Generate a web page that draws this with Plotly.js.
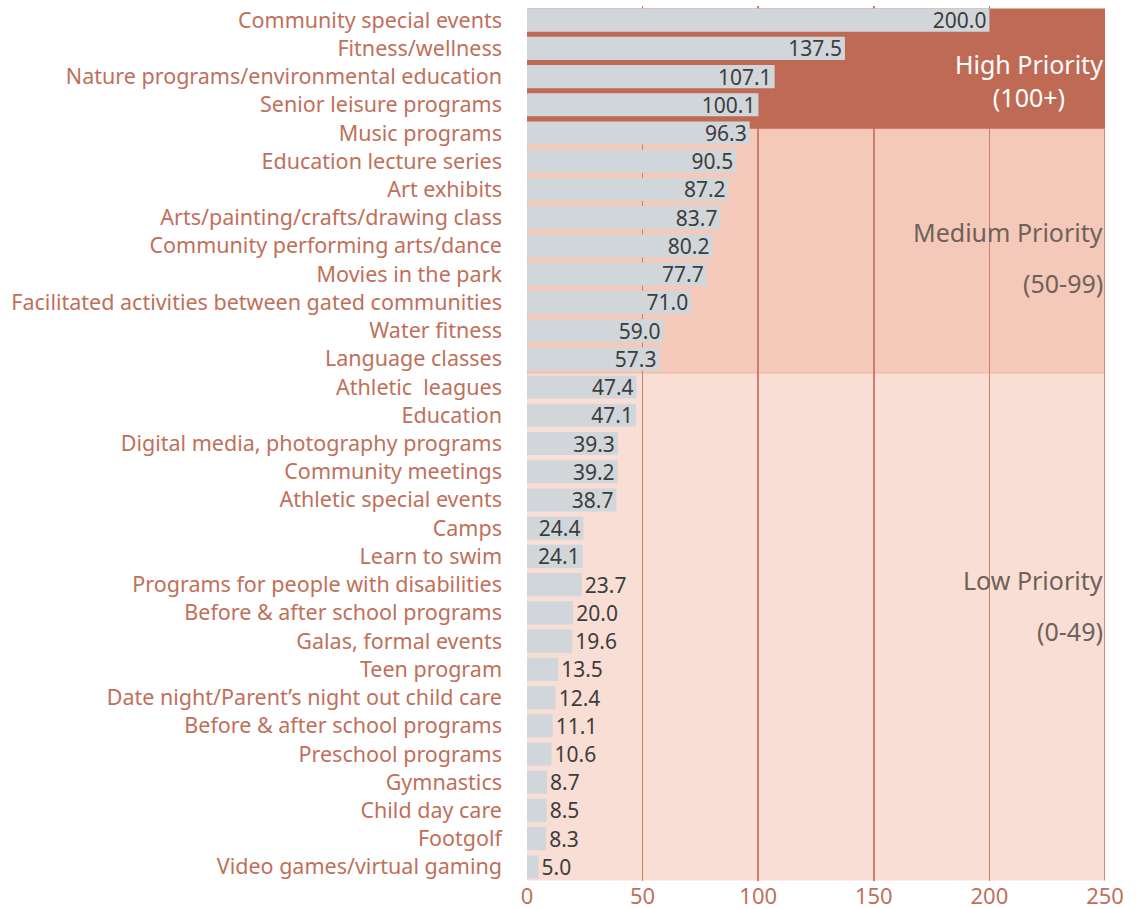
<!DOCTYPE html>
<html>
<head>
<meta charset="utf-8">
<script src="https://cdn.plot.ly/plotly-3.0.1.min.js"></script>
<style>html,body{margin:0;padding:0;background:#fff;}#chart{width:1139px;height:909px;}</style>
</head>
<body>
<div id="chart"></div>
<script>
const categories = [
  "Community special events",
  "Fitness/wellness",
  "Nature programs/environmental education",
  "Senior leisure programs",
  "Music programs",
  "Education lecture series",
  "Art exhibits",
  "Arts/painting/crafts/drawing class",
  "Community performing arts/dance",
  "Movies in the park",
  "Facilitated activities between gated communities",
  "Water fitness",
  "Language classes",
  "Athletic  leagues",
  "Education",
  "Digital media, photography programs",
  "Community meetings",
  "Athletic special events",
  "Camps",
  "Learn to swim",
  "Programs for people with disabilities",
  "Before & after school programs",
  "Galas, formal events",
  "Teen program",
  "Date night/Parent’s night out child care",
  "Before & after school programs",
  "Preschool programs",
  "Gymnastics",
  "Child day care",
  "Footgolf",
  "Video games/virtual gaming"
];
const values = [200.0, 137.5, 107.1, 100.1, 96.3, 90.5, 87.2, 83.7, 80.2, 77.7, 71.0, 59.0, 57.3,
  47.4, 47.1, 39.3, 39.2, 38.7, 24.4, 24.1, 23.7, 20.0, 19.6, 13.5, 12.4, 11.1, 10.6, 8.7, 8.5, 8.3, 5.0];
const xTicks = [0, 50, 100, 150, 200, 250];
const bands = [
  {name: "High Priority", range: "(100+)"},
  {name: "Medium Priority", range: "(50-99)"},
  {name: "Low Priority", range: "(0-49)"}
];

const positions = categories.map((c, i) => i);
const FONT = "'Noto Sans', Lato, sans-serif";

const trace = {
  type: "bar",
  orientation: "h",
  x: values,
  y: positions,
  marker: {color: "#d1d6da"},
  texttemplate: "%{x:.1f}",
  textposition: values.map(v => (v >= 24 ? "inside" : "outside")),
  insidetextanchor: "end",
  constraintext: "none",
  cliponaxis: false,
  textfont: {family: FONT, size: 21, color: "#3d3d3d"},
  insidetextfont: {family: FONT, size: 21, color: "#3d3d3d"},
  outsidetextfont: {family: FONT, size: 21, color: "#3d3d3d"},
  hoverinfo: "none"
};

const layout = {
  width: 1139,
  height: 909,
  margin: {l: 527, r: 34, t: 6, b: 28},
  paper_bgcolor: "#ffffff",
  plot_bgcolor: "rgba(0,0,0,0)",
  bargap: 0.18,
  showlegend: false,
  font: {family: FONT},
  xaxis: {
    range: [0, 250],
    tickvals: xTicks,
    ticktext: xTicks.map(String),
    showgrid: true,
    gridcolor: "#c98068",
    gridwidth: 1.5,
    zeroline: false,
    showline: false,
    ticks: "",
    ticklabelstandoff: 0,
    tickfont: {family: FONT, size: 22, color: "#c0705a"},
    fixedrange: true
  },
  yaxis: {
    range: [30.5, -0.5],
    tickvals: positions,
    ticktext: categories,
    showgrid: false,
    zeroline: false,
    ticks: "",
    ticklabelstandoff: 24,
    tickfont: {family: FONT, size: 21.5, color: "#c0705a"},
    automargin: false,
    fixedrange: true
  },
  shapes: [
    {type: "rect", xref: "x", yref: "y", x0: 0, x1: 250, y0: 12.5, y1: 30.48, layer: "below",
     fillcolor: "#f9ded5", line: {width: 0}},
    {type: "rect", xref: "x", yref: "y", x0: 0, x1: 250, y0: 3.85, y1: 12.5, layer: "below",
     fillcolor: "#f5c9b9", line: {color: "#efb59e", width: 1}},
    {type: "line", xref: "x", yref: "y", x0: 250, x1: 250, y0: 3.85, y1: 30.48, layer: "between",
     line: {color: "#d98a6c", width: 2}},
    {type: "rect", xref: "x", yref: "y", x0: 0, x1: 250, y0: -0.41, y1: 3.85, layer: "between",
     fillcolor: "#bf6a55", line: {width: 0}}
  ],
  annotations: [
    {xref: "paper", yref: "y", x: 1.0, y: 2.15, xanchor: "right", yanchor: "middle", align: "center",
     text: bands[0].name + "<br>" + bands[0].range, showarrow: false,
     font: {family: FONT, size: 25, color: "#ffffff"}},
    {xref: "paper", yref: "y", x: 1.0, y: 7.5, xanchor: "right", yanchor: "middle", align: "right",
     text: bands[1].name, showarrow: false, font: {family: FONT, size: 25, color: "#6e6259"}},
    {xref: "paper", yref: "y", x: 1.0, y: 9.3, xanchor: "right", yanchor: "middle", align: "right",
     text: bands[1].range, showarrow: false, font: {family: FONT, size: 25, color: "#6e6259"}},
    {xref: "paper", yref: "y", x: 1.0, y: 19.85, xanchor: "right", yanchor: "middle", align: "right",
     text: bands[2].name, showarrow: false, font: {family: FONT, size: 25, color: "#6e6259"}},
    {xref: "paper", yref: "y", x: 1.0, y: 21.65, xanchor: "right", yanchor: "middle", align: "right",
     text: bands[2].range, showarrow: false, font: {family: FONT, size: 25, color: "#6e6259"}}
  ]
};

Plotly.newPlot("chart", [trace], layout, {displayModeBar: false, staticPlot: true});
</script>
</body>
</html>
